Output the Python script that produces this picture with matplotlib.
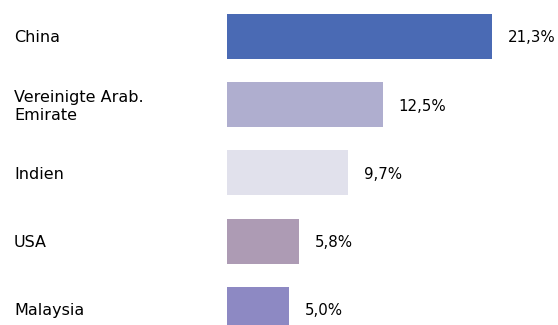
import matplotlib
matplotlib.use("Agg")
import matplotlib.pyplot as plt

# Data
countries = ["China", "Vereinigte Arab.\nEmirate", "Indien", "USA", "Malaysia"]
shares = [21.3, 12.5, 9.7, 5.8, 5.0]
colors = ["#4a6ab4", "#afaecf", "#e1e1ec", "#ad9bb4", "#8d89c3"]

plt.rcParams["font.family"] = ["DejaVu Sans"]

W, H = 558, 325
fig = plt.figure(figsize=(W / 100, H / 100), dpi=100)
left_px = 227
ax = fig.add_axes([left_px / W, 0, 1 - left_px / W, 1])

px_per_unit = 12.45
ax.set_xlim(0, (W - left_px) / px_per_unit)
step = 68.2
first = 36.5
ax.set_ylim((H - first) / step, -first / step)

y = list(range(len(countries)))
ax.barh(y, shares, height=45 / step, color=colors)

for yi, v in zip(y, shares):
    ax.annotate(f"{v:.1f}%".replace(".", ","), (v, yi), xytext=(11.5, -1),
                textcoords="offset points", va="center", ha="left", fontsize=10.8)

for yi, name in zip(y, countries):
    ax.annotate(name, (0, yi), xycoords=("figure fraction", "data"),
                xytext=(14 * 0.72, -1), textcoords="offset points",
                va="center", ha="left", fontsize=11.5, linespacing=1.25)

ax.axis("off")
fig.savefig("out.png", dpi=100)
